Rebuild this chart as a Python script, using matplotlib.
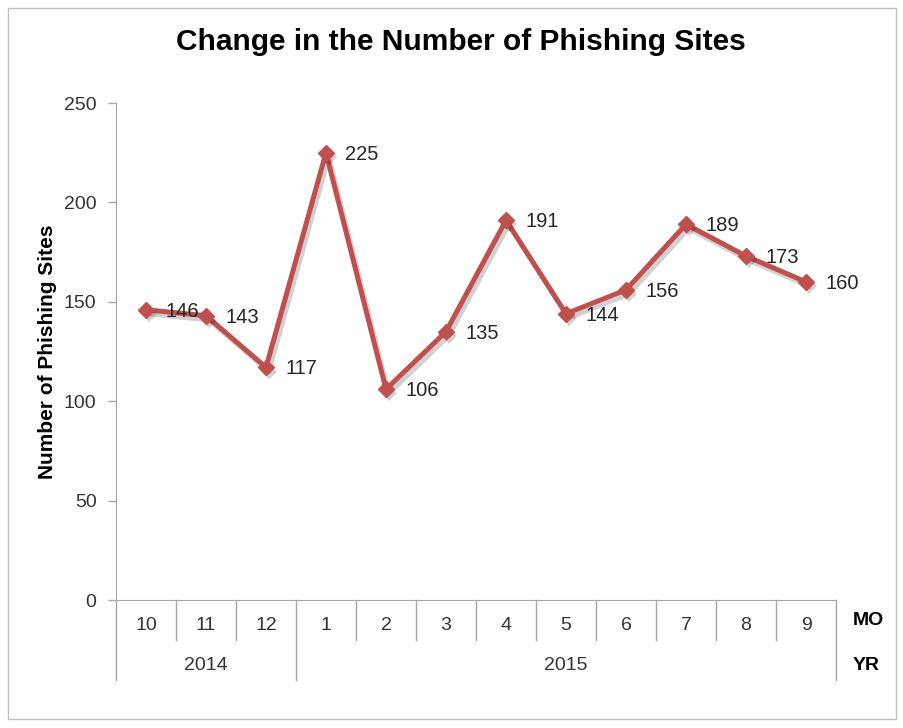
import matplotlib.pyplot as plt
import matplotlib.patheffects as pe
from matplotlib.patches import Rectangle

# phishing sites per month, Oct 2014 - Sep 2015
months = ['10', '11', '12', '1', '2', '3', '4', '5', '6', '7', '8', '9']
years = ['2014', '2014', '2014', '2015', '2015', '2015', '2015', '2015', '2015', '2015', '2015', '2015']
sites = [146, 143, 117, 225, 106, 135, 191, 144, 156, 189, 173, 160]

plt.rcParams['font.family'] = ['Liberation Sans', 'DejaVu Sans']

red = '#C0504D'
gray = '#A6A6A6'
txt = '#262626'

fig = plt.figure(figsize=(9.04, 7.28), dpi=100)
ax = fig.add_axes([0.1283, 0.1758, 0.7965, 0.6827])

x = list(range(len(sites)))
ax.plot(x, sites, color=red, lw=3.6,
        path_effects=[pe.SimpleLineShadow(offset=(2, -3), alpha=0.18, shadow_color='black'), pe.Normal()])
ax.plot(x, sites, ls='none', marker='D', ms=8, mec=red, mfc=red,
        path_effects=[pe.SimplePatchShadow(offset=(2, -3), alpha=0.18, shadow_rgbFace='black'), pe.Normal()])
for xi, v in zip(x, sites):
    ax.annotate(str(v), (xi, v), xytext=(14, -1), textcoords='offset points',
                ha='left', va='center', fontsize=14.5, color=txt)

ax.set_xlim(-0.5, len(sites) - 0.5)
ax.set_ylim(0, 250)
ax.set_yticks(range(0, 251, 50))
ax.tick_params(axis='y', colors=gray, labelcolor='#333333', labelsize=14, length=6, width=1, pad=8)
ax.set_xticks([])
for s in ['top', 'right']:
    ax.spines[s].set_visible(False)
ax.spines['left'].set_color(gray)
ax.spines['bottom'].set_color(gray)

ax.set_ylabel('Number of Phishing Sites', fontsize=15, fontweight='bold', labelpad=5)

# two-level category axis
tr = ax.get_xaxis_transform()
row1 = -0.0805
row2 = -0.161
for i, m in enumerate(months):
    ax.text(i, -0.052, m, transform=tr, ha='center', va='center', fontsize=14, color='#333333')
edges = list(range(len(months) + 1))
for e in edges:
    full = e == 0 or e == len(months) or years[e] != years[e - 1]
    ax.plot([e - 0.5, e - 0.5], [0, row2 if full else row1], transform=tr,
            color=gray, lw=1, clip_on=False)
start = 0
for i in range(1, len(years) + 1):
    if i == len(years) or years[i] != years[start]:
        ax.text((start + i - 1) / 2, -0.132, years[start], transform=tr,
                ha='center', va='center', fontsize=14, color='#333333')
        start = i
ax.text(len(months) - 0.22, -0.041, 'MO', transform=tr, ha='left', va='center',
        fontsize=14, fontweight='bold')
ax.text(len(months) - 0.22, -0.132, 'YR', transform=tr, ha='left', va='center',
        fontsize=14, fontweight='bold')

fig.text(0.51, 0.942, 'Change in the Number of Phishing Sites', ha='center', va='center',
         fontsize=21.5, fontweight='bold')

fig.patches.append(Rectangle((0.009, 0.013), 0.982, 0.976, transform=fig.transFigure,
                             fill=False, ec='#BFBFBF', lw=1))

fig.savefig('out.png', dpi=100)
